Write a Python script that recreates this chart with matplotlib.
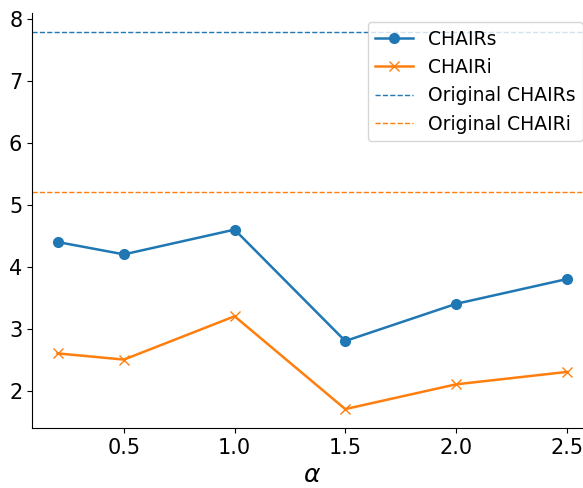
import numpy as np
import matplotlib
matplotlib.use("Agg")
import matplotlib.pyplot as plt

alpha = [0.2, 0.5, 1.0, 1.5, 2.0, 2.5]
chair_s = [4.4, 4.2, 4.6, 2.8, 3.4, 3.8]
chair_i = [2.6, 2.5, 3.2, 1.7, 2.1, 2.3]
orig_s = 7.8
orig_i = 5.2

fig = plt.figure(figsize=(5.83, 4.88), dpi=100)
ax = fig.add_axes([0.055, 0.123, 0.9605, 0.851])
ax.plot(alpha, chair_s, marker="o", color="C0", lw=1.8, ms=7, label="CHAIRs")
ax.plot(alpha, chair_i, marker="x", color="C1", lw=1.8, ms=7, label="CHAIRi")
ax.axhline(orig_s, ls="--", color="C0", lw=1, label="Original CHAIRs")
ax.axhline(orig_i, ls="--", color="C1", lw=1, label="Original CHAIRi")
ax.spines["top"].set_visible(False)
ax.spines["right"].set_visible(False)
ax.tick_params(labelsize=15)
ax.set_xticks([0.5, 1.0, 1.5, 2.0, 2.5])
ax.set_xlabel(r"$\alpha$", fontsize=18)
ax.legend(loc="upper right", fontsize=13.5)
fig.savefig("out.png", dpi=100)
